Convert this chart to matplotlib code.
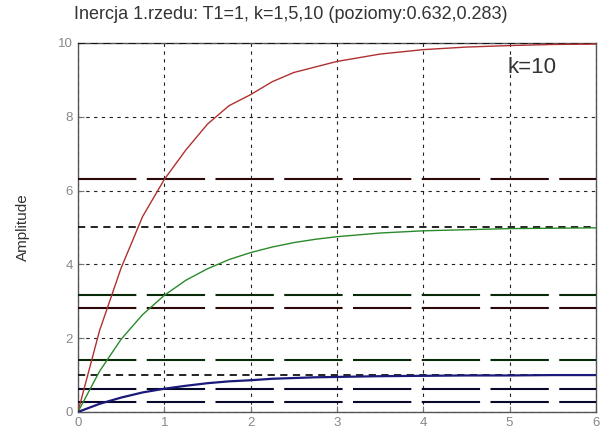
import numpy as np
import matplotlib.pyplot as plt

# step responses (T1=1)
t = [0, 0.25, 0.5, 0.75, 1.0, 1.25, 1.5, 1.75, 2.0, 2.25, 2.5, 2.75, 3.0,
     3.5, 4.0, 4.5, 5.0, 5.5, 6.0]
y10 = [0, 2.2, 3.9, 5.3, 6.3, 7.1, 7.8, 8.3, 8.6, 8.95, 9.2, 9.35, 9.5,
       9.7, 9.82, 9.89, 9.93, 9.96, 9.97]
y5 = [0, 1.1, 1.97, 2.64, 3.16, 3.57, 3.88, 4.13, 4.32, 4.47, 4.59, 4.68,
      4.75, 4.85, 4.91, 4.94, 4.97, 4.98, 4.99]
y1 = [0, 0.22, 0.39, 0.53, 0.63, 0.71, 0.78, 0.83, 0.86, 0.9, 0.92, 0.94,
      0.95, 0.97, 0.98, 0.99, 0.99, 1.0, 1.0]

gains = [10, 5, 1]
levels = [0.632, 0.283]
curve_colors = ['#b03030', '#2a8a2a', '#1a1a7a']
level_colors = ['#2a0808', '#082a08', '#08082a']

fig = plt.figure(figsize=(6.04, 4.41), dpi=100)
ax = fig.add_axes([0.129, 0.0658, 0.8576, 0.8367])

for y, c in zip([y10, y5, y1], curve_colors):
    lw = 1.6 if c == curve_colors[2] else 1.0
    ax.plot(t, y, color=c, lw=lw, zorder=4)

# steady-state lines
for k in gains:
    ax.axhline(k, color='#111111', lw=1.3, ls=(0, (4, 3)), zorder=3)

# 0.632k and 0.283k levels
for k, c in zip(gains, level_colors):
    for p in levels:
        ax.axhline(p * k, color=c, lw=1.5, ls=(0, (28, 5)), zorder=3)

ax.set_xlim(0, 6)
ax.set_ylim(0, 10)
ax.set_xticks(range(0, 7))
ax.set_yticks(range(0, 11, 2))
ax.grid(True, color='#222222', ls=(0, (3, 4)), lw=0.8)
ax.tick_params(direction='in', length=4, colors='#777777', labelsize=9.5,
               labelcolor='#888888')
for s in ax.spines.values():
    s.set_color('#555555')
    s.set_linewidth(1.0)

ax.set_ylabel('Amplitude', fontsize=11, color='#333333', labelpad=20,
              family='Liberation Sans')
ax.text(4.98, 9.34, 'k=10', fontsize=16, color='#333333', va='center',
        family='Liberation Sans')
fig.text(0.482, 0.966, 'Inercja 1.rzedu: T1=1, k=1,5,10 (poziomy:0.632,0.283)',
         ha='center', va='center', fontsize=13, color='#333333',
         family='Liberation Sans')

for lab in ax.get_xticklabels() + ax.get_yticklabels():
    lab.set_family('Liberation Sans')

plt.savefig('out.png', dpi=100)
